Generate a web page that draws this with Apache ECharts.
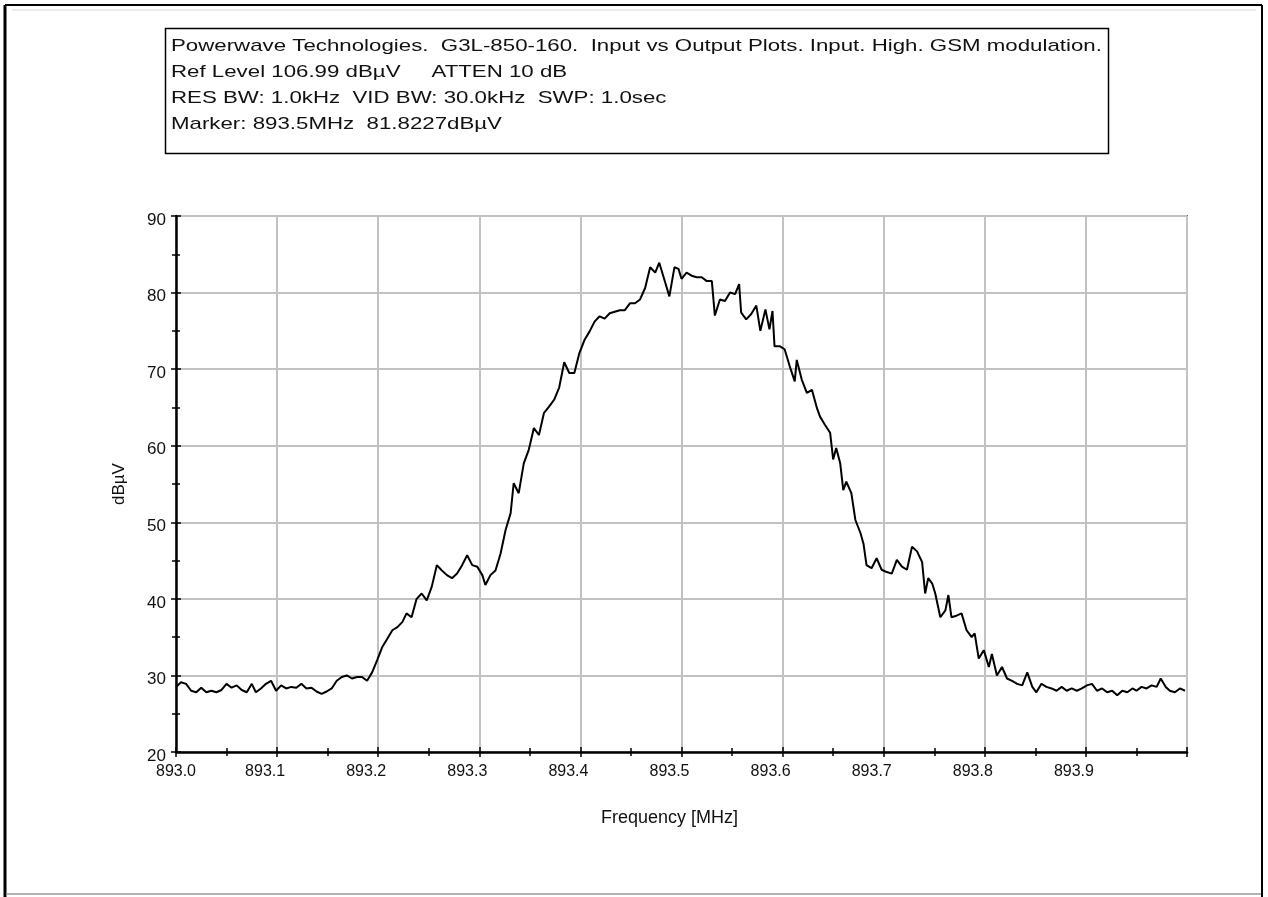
<!DOCTYPE html>
<html>
<head>
<meta charset="utf-8">
<script src="https://cdn.jsdelivr.net/npm/echarts@6/dist/echarts.min.js"></script>
<style>
  html, body { margin: 0; padding: 0; background: #fff; }
  #chart { width: 1268px; height: 897px; }
</style>
</head>
<body>
<div id="chart"></div>
<script>
// Spectrum analyzer trace: frequency (MHz) and level (dBµV)
const freqMHz = [
  893.000, 893.005, 893.010, 893.015, 893.020, 893.025, 893.030, 893.035, 893.040, 893.045,
  893.050, 893.055, 893.060, 893.065, 893.070, 893.075, 893.079, 893.084, 893.089, 893.094,
  893.099, 893.104, 893.109, 893.114, 893.119, 893.124, 893.129, 893.134, 893.139, 893.144,
  893.149, 893.154, 893.159, 893.164, 893.169, 893.174, 893.179, 893.184, 893.189, 893.194,
  893.199, 893.204, 893.209, 893.214, 893.219, 893.224, 893.228, 893.233, 893.238, 893.243,
  893.248, 893.253, 893.258, 893.263, 893.268, 893.273, 893.278, 893.283, 893.288, 893.293,
  893.298, 893.303, 893.306, 893.311, 893.316, 893.321, 893.326, 893.331, 893.334, 893.339,
  893.344, 893.349, 893.354, 893.359, 893.364, 893.369, 893.374, 893.379, 893.384, 893.389,
  893.394, 893.399, 893.404, 893.409, 893.414, 893.419, 893.424, 893.429, 893.434, 893.439,
  893.444, 893.449, 893.454, 893.459, 893.464, 893.469, 893.474, 893.478, 893.483, 893.488,
  893.493, 893.497,
  893.500, 893.505, 893.510, 893.515, 893.520, 893.525, 893.530, 893.533, 893.538, 893.543,
  893.548, 893.553, 893.557, 893.559, 893.564, 893.569, 893.574, 893.578, 893.583, 893.587,
  893.590, 893.592, 893.597, 893.602, 893.607, 893.612, 893.614, 893.619, 893.624, 893.629,
  893.634, 893.637, 893.642, 893.647, 893.650, 893.653, 893.657, 893.660, 893.663, 893.668,
  893.672, 893.677, 893.680, 893.683, 893.688, 893.693, 893.698, 893.703, 893.708, 893.713,
  893.718, 893.723, 893.728, 893.733, 893.738, 893.741, 893.744, 893.748, 893.751, 893.756,
  893.761, 893.764, 893.767, 893.772, 893.777, 893.782, 893.787, 893.790, 893.794, 893.799,
  893.804, 893.807, 893.812, 893.817, 893.822, 893.827, 893.832, 893.837, 893.842, 893.847,
  893.851, 893.856, 893.861, 893.866, 893.871, 893.876, 893.881, 893.886, 893.891, 893.896,
  893.901, 893.906, 893.911, 893.916, 893.921, 893.926, 893.931, 893.936, 893.941, 893.946,
  893.950, 893.955, 893.960, 893.965, 893.970, 893.974, 893.979, 893.983, 893.988, 893.993,
  893.998
];
const levelDbuV = [
  28.5, 29.1, 28.9, 28.0, 27.8, 28.4, 27.8, 28.0, 27.8, 28.1,
  28.9, 28.4, 28.7, 28.1, 27.8, 28.9, 27.8, 28.3, 28.9, 29.3,
  28.0, 28.7, 28.3, 28.5, 28.4, 28.9, 28.3, 28.4, 27.9, 27.6,
  27.9, 28.3, 29.3, 29.8, 30.0, 29.6, 29.8, 29.8, 29.3, 30.4,
  32.0, 33.7, 34.8, 35.9, 36.3, 37.0, 38.1, 37.6, 40.0, 40.7,
  39.8, 41.6, 44.4, 43.7, 43.1, 42.7, 43.3, 44.4, 45.7, 44.4,
  44.2, 43.1, 41.8, 43.1, 43.7, 45.9, 49.0, 51.2, 55.1, 53.8,
  57.7, 59.5, 62.3, 61.4, 64.3, 65.1, 66.0, 67.6, 70.9, 69.5,
  69.5, 72.1, 73.8, 74.9, 76.2, 76.9, 76.6, 77.3, 77.5, 77.7,
  77.7, 78.6, 78.6, 79.1, 80.6, 83.3, 82.6, 83.9, 81.7, 79.5,
  83.3, 83.1,
  81.8, 82.6, 82.2, 82.0, 82.0, 81.5, 81.5, 77.0, 79.1, 78.9,
  80.0, 79.8, 81.1, 77.4, 76.5, 77.2, 78.3, 75.0, 77.8, 75.2,
  77.6, 73.0, 73.0, 72.6, 70.4, 68.4, 71.2, 68.6, 66.9, 67.3,
  64.9, 63.8, 62.7, 61.7, 58.2, 59.7, 57.7, 54.2, 55.3, 53.8,
  50.3, 48.6, 47.2, 44.4, 44.0, 45.3, 43.8, 43.5, 43.3, 45.1,
  44.2, 43.8, 46.8, 46.2, 44.8, 40.7, 42.7, 42.0, 40.7, 37.6,
  38.5, 40.5, 37.6, 37.8, 38.1, 35.9, 35.0, 35.5, 32.2, 33.3,
  31.1, 32.8, 30.0, 31.1, 29.6, 29.3, 28.9, 28.7, 30.4, 28.5,
  27.8, 28.9, 28.5, 28.3, 28.0, 28.5, 28.0, 28.3, 28.0, 28.3,
  28.7, 28.9, 28.0, 28.3, 27.8, 28.0, 27.4, 28.0, 27.8, 28.3,
  28.0, 28.5, 28.3, 28.7, 28.5, 29.6, 28.5, 28.0, 27.8, 28.3,
  28.0
];

const xTickLabels = ['893.0', '893.1', '893.2', '893.3', '893.4', '893.5', '893.6', '893.7', '893.8', '893.9'];
const yTickLabels = ['20', '30', '40', '50', '60', '70', '80', '90'];

const headerLines = [
  'Powerwave Technologies.  G3L-850-160.  Input vs Output Plots. Input. High. GSM modulation.',
  'Ref Level 106.99 dB\u00B5V     ATTEN 10 dB',
  'RES BW: 1.0kHz  VID BW: 30.0kHz  SWP: 1.0sec',
  'Marker: 893.5MHz  81.8227dB\u00B5V'
];

const FONT = '"Liberation Sans", Arial, sans-serif';
const X_MIN = 893.0, X_MAX = 894.0, Y_MIN = 20, Y_MAX = 90;

const chart = echarts.init(document.getElementById('chart'), null, { renderer: 'canvas' });

const xLabelFormatter = function (v) {
  const i = Math.round((v - X_MIN) * 10);
  const s = xTickLabels[i];
  if (s === undefined) return '';
  return i === 0 ? '{f|' + s + '}' : '{n|' + s + '}';
};
const yLabelFormatter = function (v) {
  const i = Math.round((v - Y_MIN) / 10);
  return yTickLabels[i] !== undefined ? '{v|' + yTickLabels[i] + '}' : '';
};

const axisLineStyle = { color: '#000', width: 2.5 };
const gridLine = { show: true, lineStyle: { color: '#c2c2c2', width: 2 } };

// header text block (wide instrument font)
const headerGraphics = headerLines.map(function (t, i) {
  return {
    type: 'text',
    x: 171,
    y: 38 + i * 26,
    scaleX: 1.31,
    style: { text: t, x: 0, y: 0, font: '17px ' + FONT, fill: '#111', verticalAlign: 'top' },
    silent: true
  };
});

chart.setOption({
  animation: false,
  backgroundColor: '#fff',
  grid: {
    left: 176, top: 216, width: 1011, height: 536,
    show: true, borderColor: '#000', borderWidth: 1.5, backgroundColor: 'transparent'
  },
  xAxis: [
    {
      type: 'value', min: X_MIN, max: X_MAX, interval: 0.1, position: 'bottom',
      name: 'Frequency [MHz]', nameLocation: 'middle', nameGap: 57,
      nameTextStyle: { fontFamily: FONT, fontSize: 18, color: '#111', padding: [0, 24, 0, 0] },
      axisLine: { show: true, onZero: false, lineStyle: axisLineStyle },
      axisTick: { show: true, length: 5, lineStyle: { color: '#000', width: 1.5 } },
      minorTick: { show: true, splitNumber: 2, length: 4, lineStyle: { color: '#000', width: 1.5 } },
      axisLabel: {
        show: true, margin: 12, showMaxLabel: false, formatter: xLabelFormatter,
        color: '#111', fontFamily: FONT, fontSize: 16,
        rich: {
          f: { fontFamily: FONT, fontSize: 16, color: '#111' },
          n: { fontFamily: FONT, fontSize: 16, color: '#111', padding: [0, 24, 0, 0] }
        }
      },
      splitLine: gridLine
    },
    {
      type: 'value', min: X_MIN, max: X_MAX, interval: 0.1, position: 'bottom',
      axisLine: { show: false, onZero: false },
      axisTick: { show: true, inside: true, length: 5, lineStyle: { color: '#000', width: 1.5 } },
      minorTick: { show: true, splitNumber: 2, length: 4, lineStyle: { color: '#000', width: 1.5 } },
      axisLabel: { show: false },
      splitLine: { show: false }
    }
  ],
  yAxis: [
    {
      type: 'value', min: Y_MIN, max: Y_MAX, interval: 10, position: 'left',
      name: 'dB\u00B5V', nameLocation: 'middle', nameGap: 48,
      nameTextStyle: { fontFamily: FONT, fontSize: 17, color: '#111' },
      axisLine: { show: true, onZero: false, lineStyle: axisLineStyle },
      axisTick: { show: true, length: 5, lineStyle: { color: '#000', width: 1.5 } },
      minorTick: { show: true, splitNumber: 2, length: 4, lineStyle: { color: '#000', width: 1.5 } },
      axisLabel: {
        show: true, margin: 10, formatter: yLabelFormatter,
        color: '#111', fontFamily: FONT, fontSize: 17,
        rich: { v: { fontFamily: FONT, fontSize: 17, color: '#111', padding: [8, 0, 0, 0] } }
      },
      splitLine: gridLine
    },
    {
      type: 'value', min: Y_MIN, max: Y_MAX, interval: 10, position: 'left',
      axisLine: { show: false, onZero: false },
      axisTick: { show: true, inside: true, length: 5, lineStyle: { color: '#000', width: 1.5 } },
      minorTick: { show: true, splitNumber: 2, length: 4, lineStyle: { color: '#000', width: 1.5 } },
      axisLabel: { show: false },
      splitLine: { show: false }
    }
  ],
  graphic: [
    // window frame
    { type: 'line', shape: { x1: 5, y1: 5, x2: 1262, y2: 5 }, style: { stroke: '#000', lineWidth: 2 }, silent: true },
    { type: 'line', shape: { x1: 5, y1: 5, x2: 5, y2: 897 }, style: { stroke: '#000', lineWidth: 3 }, silent: true },
    { type: 'line', shape: { x1: 1262, y1: 5, x2: 1262, y2: 897 }, style: { stroke: '#000', lineWidth: 2 }, silent: true },
    { type: 'line', shape: { x1: 12, y1: 10, x2: 1256, y2: 10 }, style: { stroke: '#d8d8d8', lineWidth: 1 }, silent: true },
    { type: 'line', shape: { x1: 6, y1: 894, x2: 1261, y2: 894 }, style: { stroke: '#9a9a9a', lineWidth: 1.5 }, silent: true },
    // header box
    {
      type: 'rect', shape: { x: 165.5, y: 28.5, width: 943, height: 125 },
      style: { fill: '#fff', stroke: '#000', lineWidth: 1.5 }, silent: true
    }
  ].concat(headerGraphics),
  series: [
    {
      type: 'line',
      xAxisIndex: 0,
      yAxisIndex: 0,
      showSymbol: false,
      symbol: 'none',
      clip: true,
      lineStyle: { color: '#000', width: 2 },
      data: freqMHz.map(function (f, i) { return [f, levelDbuV[i]]; })
    }
  ]
});
</script>
</body>
</html>
